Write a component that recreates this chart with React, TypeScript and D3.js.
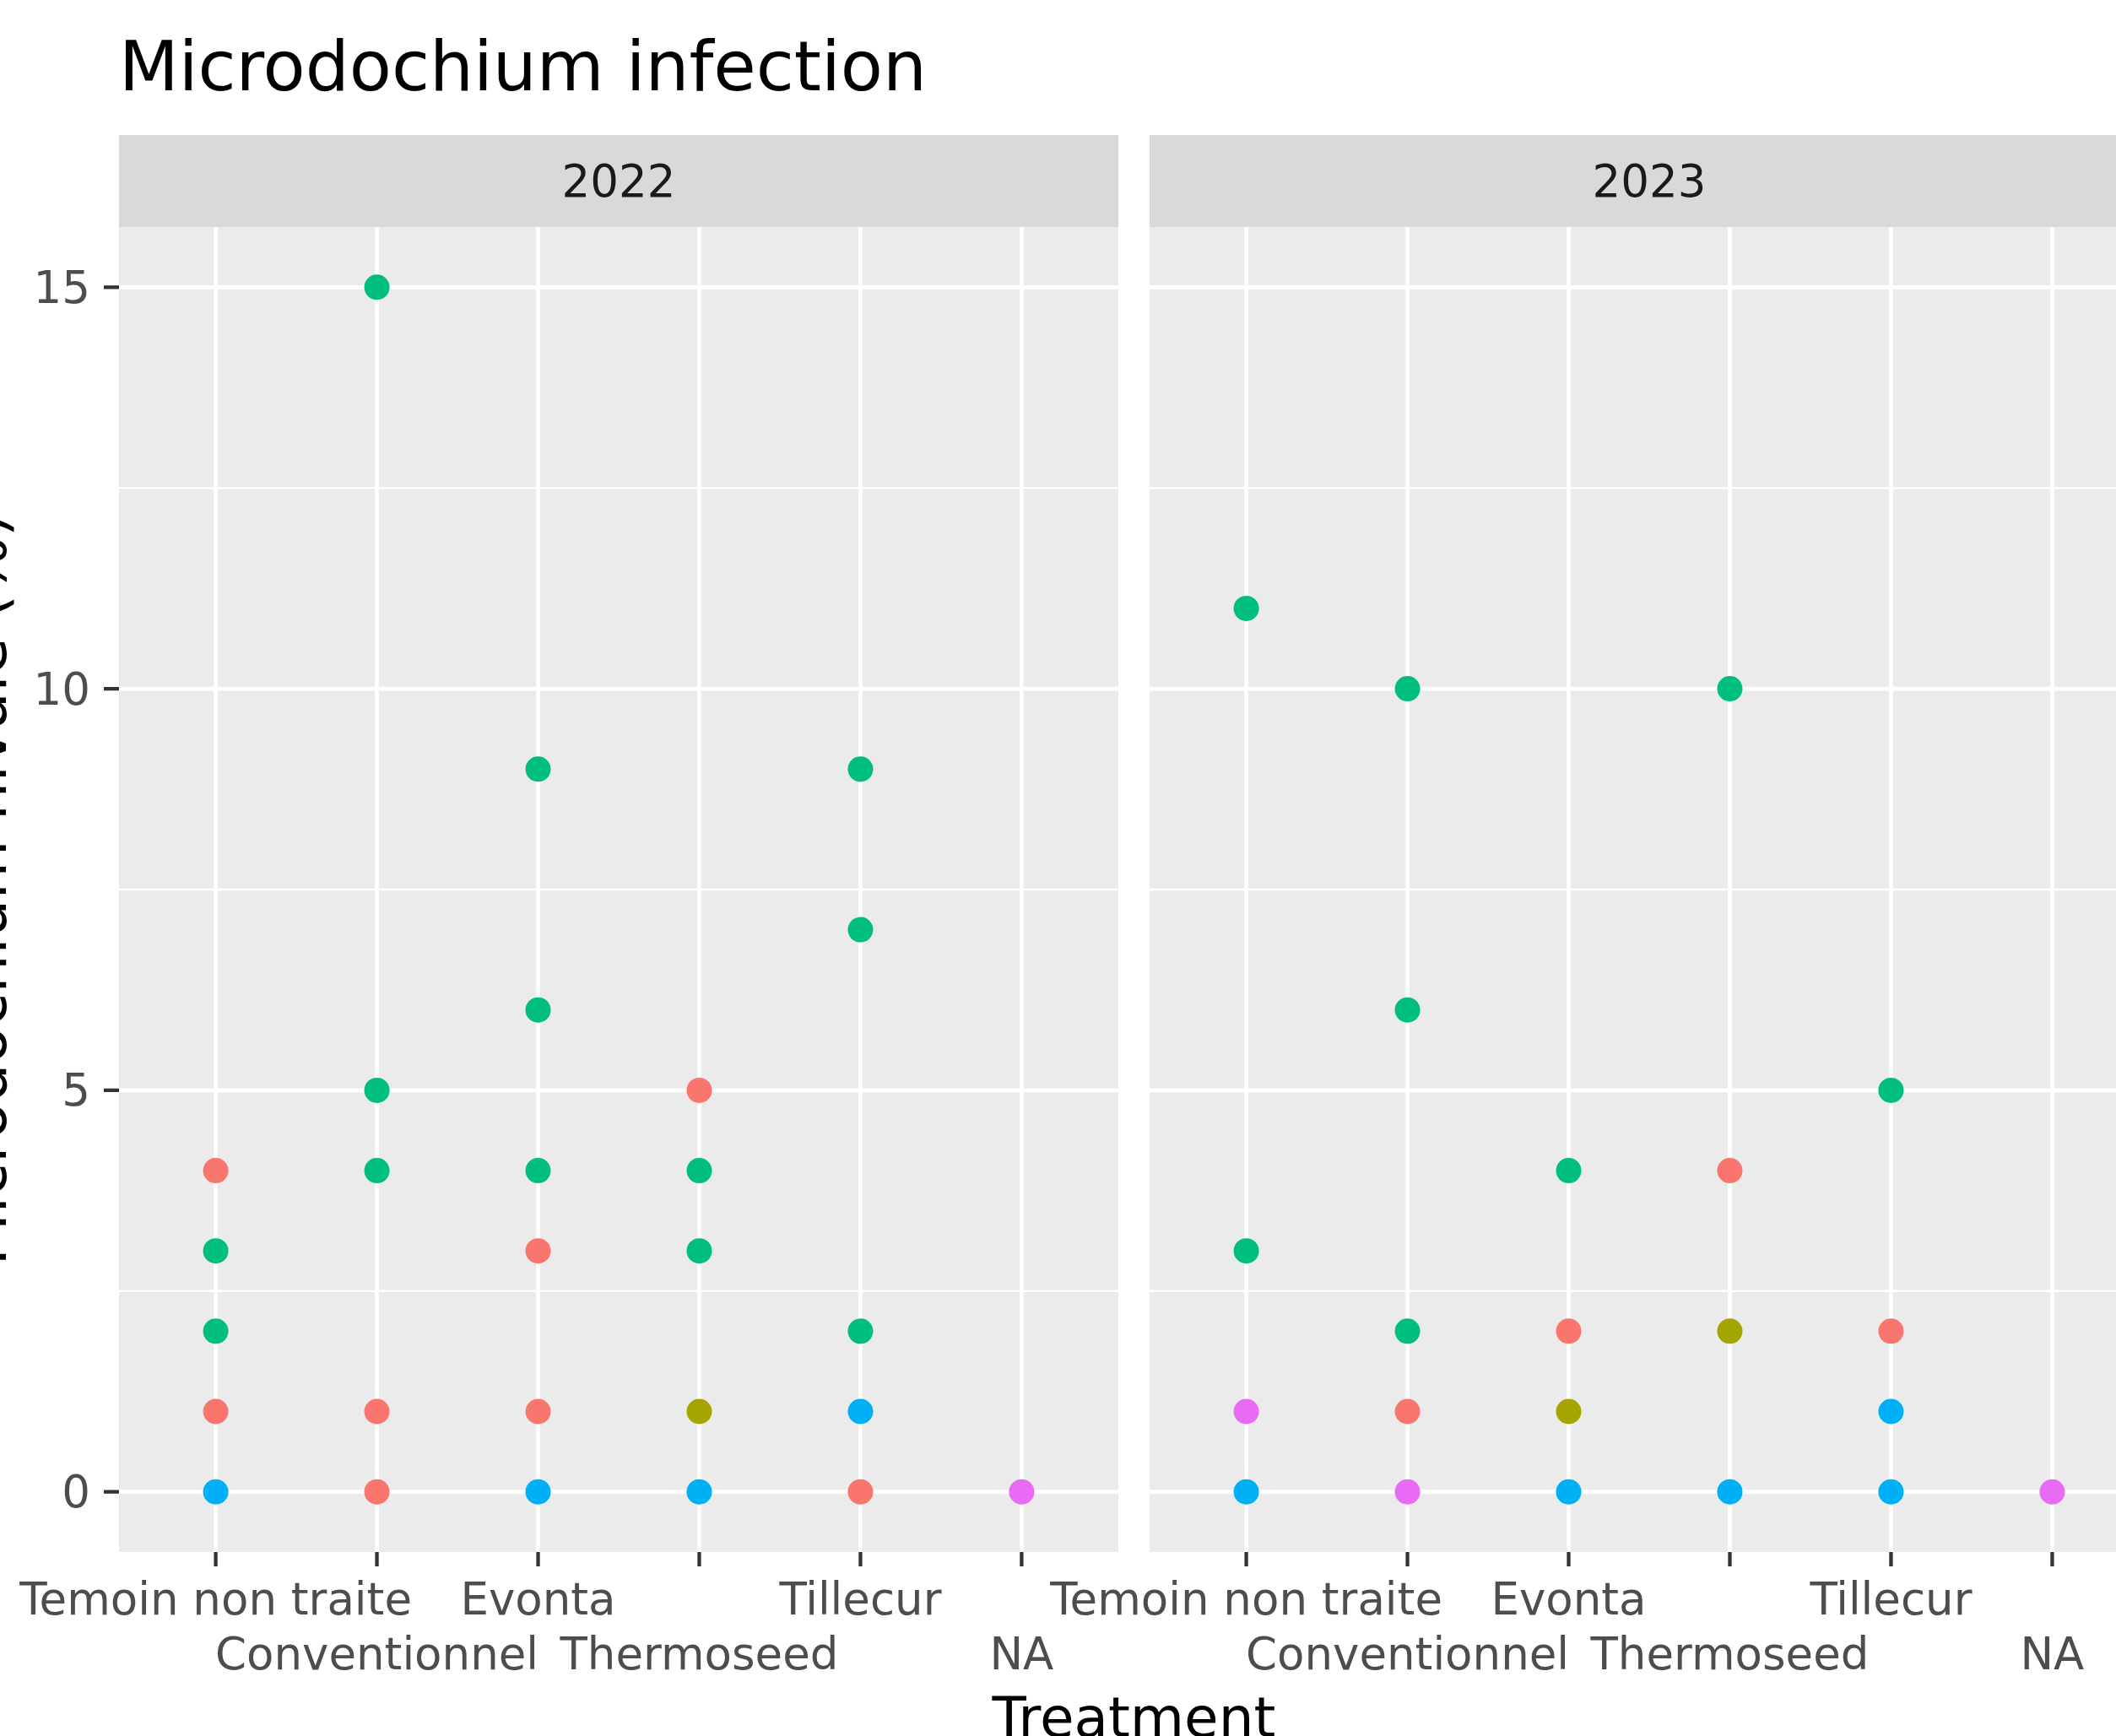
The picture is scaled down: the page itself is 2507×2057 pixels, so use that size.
import React from "react";
import * as d3 from "d3";

const years = ["2022", "2023"];
const treatments = ["Temoin non traite", "Conventionnel", "Evonta", "Thermoseed", "Tillecur", "NA"];
const groupColors = ["#F8766D", "#A3A500", "#00BF7D", "#00B0F6", "#E76BF3"];
const yTicks = [0, 5, 10, 15];
const yMinor = [2.5, 7.5, 12.5];

// [treatment, value, colour group]
const points2022: [string, number, number][] = [
  ["Temoin non traite", 4, 0], ["Temoin non traite", 3, 2], ["Temoin non traite", 2, 2], ["Temoin non traite", 1, 0], ["Temoin non traite", 0, 3],
  ["Conventionnel", 15, 2], ["Conventionnel", 5, 2], ["Conventionnel", 4, 2], ["Conventionnel", 1, 0], ["Conventionnel", 0, 0],
  ["Evonta", 9, 2], ["Evonta", 6, 2], ["Evonta", 4, 2], ["Evonta", 3, 0], ["Evonta", 1, 0], ["Evonta", 0, 3],
  ["Thermoseed", 5, 0], ["Thermoseed", 4, 2], ["Thermoseed", 3, 2], ["Thermoseed", 1, 1], ["Thermoseed", 0, 3],
  ["Tillecur", 9, 2], ["Tillecur", 7, 2], ["Tillecur", 2, 2], ["Tillecur", 1, 3], ["Tillecur", 0, 0],
  ["NA", 0, 4],
];
const points2023: [string, number, number][] = [
  ["Temoin non traite", 11, 2], ["Temoin non traite", 3, 2], ["Temoin non traite", 1, 4], ["Temoin non traite", 0, 3],
  ["Conventionnel", 10, 2], ["Conventionnel", 6, 2], ["Conventionnel", 2, 2], ["Conventionnel", 1, 0], ["Conventionnel", 0, 4],
  ["Evonta", 4, 2], ["Evonta", 2, 0], ["Evonta", 1, 1], ["Evonta", 0, 3],
  ["Thermoseed", 10, 2], ["Thermoseed", 4, 0], ["Thermoseed", 2, 1], ["Thermoseed", 0, 3],
  ["Tillecur", 5, 2], ["Tillecur", 2, 0], ["Tillecur", 1, 3], ["Tillecur", 0, 3],
  ["NA", 0, 4],
];
const panelPoints = [points2022, points2023];

const W = 2507;
const H = 2057;
const panelTop = 269;
const panelBottom = 1839;
const stripTop = 160;
const panelW = 1184;
const panelLefts = [141, 1362];
const FONT = "DejaVu Sans, Verdana, sans-serif";

export default function App() {
  const y = d3.scaleLinear().domain([-0.75, 15.75]).range([panelBottom, panelTop]);
  return (
    <svg width={W} height={H} style={{ position: "absolute", left: 0, top: 0, background: "#fff" }} fontFamily={FONT}>
      <rect x={0} y={0} width={W} height={H} fill="#ffffff" />
      <text x={141} y={107} fontSize={82} fill="#000">Microdochium infection</text>
      {years.map((yr, pi) => {
        const left = panelLefts[pi];
        const x = d3.scalePoint<string>().domain(treatments).range([left, left + panelW]).padding(0.6);
        return (
          <g key={yr}>
            <rect x={left} y={stripTop} width={panelW} height={panelTop - stripTop} fill="#D9D9D9" />
            <text x={left + panelW / 2} y={(stripTop + panelTop) / 2} fontSize={53} fill="#1A1A1A" textAnchor="middle" dominantBaseline="central">{yr}</text>
            <rect x={left} y={panelTop} width={panelW} height={panelBottom - panelTop} fill="#EBEBEB" />
            {yMinor.map((v) => (
              <line key={"mi" + v} x1={left} x2={left + panelW} y1={y(v)} y2={y(v)} stroke="#fff" strokeWidth={2.3} />
            ))}
            {yTicks.map((v) => (
              <line key={"ma" + v} x1={left} x2={left + panelW} y1={y(v)} y2={y(v)} stroke="#fff" strokeWidth={4.6} />
            ))}
            {treatments.map((t) => (
              <line key={"vx" + t} x1={x(t)} x2={x(t)} y1={panelTop} y2={panelBottom} stroke="#fff" strokeWidth={4.6} />
            ))}
            {panelPoints[pi].map(([t, v, g], i) => (
              <circle key={i} cx={x(t)} cy={y(v)} r={15} fill={groupColors[g]} />
            ))}
            {treatments.map((t, i) => (
              <g key={"tk" + t}>
                <line x1={x(t)} x2={x(t)} y1={panelBottom} y2={panelBottom + 17} stroke="#333333" strokeWidth={4.3} />
                <text x={x(t)} y={i % 2 === 0 ? 1913 : 1978} fontSize={53} fill="#4D4D4D" textAnchor="middle">{t}</text>
              </g>
            ))}
          </g>
        );
      })}
      {yTicks.map((v) => (
        <g key={"yt" + v}>
          <line x1={123} x2={141} y1={y(v)} y2={y(v)} stroke="#333333" strokeWidth={4.3} />
          <text x={107} y={y(v)} fontSize={53} fill="#4D4D4D" textAnchor="end" dominantBaseline="central">{v}</text>
        </g>
      ))}
      <text transform={`translate(7, ${(panelTop + panelBottom) / 2}) rotate(-90)`} fontSize={72} fill="#000" textAnchor="middle">Microdochium nivale (%)</text>
      <text x={(panelLefts[0] + panelLefts[1] + panelW) / 2} y={2058} fontSize={66} fill="#000" textAnchor="middle">Treatment</text>
    </svg>
  );
}
